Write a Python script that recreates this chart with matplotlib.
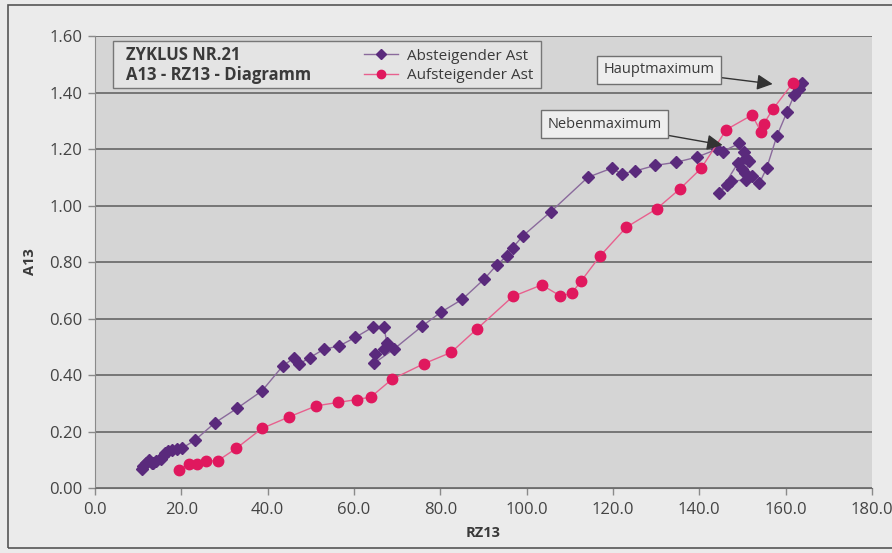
import matplotlib
matplotlib.use("Agg")
import matplotlib.pyplot as plt
from matplotlib.patches import Rectangle
from matplotlib.ticker import FormatStrFormatter, MultipleLocator

plt.rcParams["font.family"] = ["Open Sans", "DejaVu Sans"]

# Absteigender Ast (descending branch), from maximum down to minimum
desc_rz = [163.8, 163.2, 162.0, 160.3, 158.0, 155.6, 153.9, 152.3, 150.9, 147.3,
           146.5, 144.6, 148.9, 150.0, 150.6, 151.6, 150.9, 150.4, 149.3, 145.4,
           144.1, 139.4, 134.6, 129.8, 125.1, 122.0, 119.7, 114.2, 105.6, 99.1,
           96.8, 95.4, 93.1, 90.2, 85.1, 80.1, 75.8, 69.2, 64.6, 64.8,
           66.9, 67.7, 66.9, 64.3, 60.3, 56.6, 53.0, 49.7, 47.3, 46.2,
           43.5, 38.7, 32.9, 27.8, 23.2, 20.1, 18.9, 17.8, 17.0, 16.2,
           15.7, 15.2, 14.2, 13.5, 13.1, 12.4, 11.8, 11.2, 10.8]
desc_a13 = [1.432, 1.411, 1.391, 1.330, 1.247, 1.132, 1.078, 1.104, 1.092, 1.085,
            1.073, 1.043, 1.149, 1.130, 1.116, 1.159, 1.167, 1.191, 1.220, 1.191,
            1.199, 1.171, 1.153, 1.142, 1.122, 1.112, 1.132, 1.100, 0.978, 0.892,
            0.851, 0.821, 0.790, 0.740, 0.668, 0.622, 0.573, 0.491, 0.441, 0.474,
            0.491, 0.512, 0.569, 0.569, 0.533, 0.503, 0.491, 0.461, 0.439, 0.462,
            0.432, 0.344, 0.282, 0.231, 0.170, 0.140, 0.137, 0.134, 0.132, 0.125,
            0.113, 0.101, 0.095, 0.090, 0.087, 0.099, 0.090, 0.078, 0.066]

# Aufsteigender Ast (ascending branch)
asc_rz = [19.5, 21.8, 23.7, 25.8, 28.4, 32.7, 38.7, 45.0, 51.3, 56.3,
          60.6, 63.9, 68.8, 76.2, 82.5, 88.4, 96.8, 103.5, 107.8, 110.4,
          112.6, 117.0, 123.1, 130.1, 135.6, 140.4, 146.3, 152.2, 154.4, 154.9,
          157.0, 161.6]
asc_a13 = [0.064, 0.085, 0.085, 0.096, 0.096, 0.140, 0.211, 0.252, 0.291, 0.303,
           0.313, 0.322, 0.385, 0.440, 0.480, 0.562, 0.678, 0.719, 0.680, 0.689,
           0.732, 0.821, 0.923, 0.988, 1.060, 1.131, 1.269, 1.320, 1.259, 1.288,
           1.340, 1.432]

purple = "#5a2a7c"
pink = "#e0185e"
txt = "#3a3a3a"

fig = plt.figure(figsize=(8.92, 5.53), dpi=100, facecolor="#ebebeb")
ax = fig.add_axes([0.1065, 0.1175, 0.871, 0.8174])
ax.set_facecolor("#d5d5d5")

# outer frame of the chart
fig.add_artist(Rectangle((0.009, 0.009), 1.1, 0.982, transform=fig.transFigure,
                         fill=False, edgecolor="#555555", lw=1.2))

ax.plot(desc_rz, desc_a13, color="#8a6a9c", lw=1.0, marker="D", ms=6,
        mfc=purple, mec=purple, label="Absteigender Ast", zorder=3)
ax.plot(asc_rz, asc_a13, color="#e8608e", lw=1.0, marker="o", ms=7.5,
        mfc=pink, mec=pink, label="Aufsteigender Ast", zorder=4)

ax.set_xlim(0, 180)
ax.set_ylim(0, 1.6)
ax.xaxis.set_major_locator(MultipleLocator(20))
ax.yaxis.set_major_locator(MultipleLocator(0.2))
ax.xaxis.set_major_formatter(FormatStrFormatter("%.1f"))
ax.yaxis.set_major_formatter(FormatStrFormatter("%.2f"))
ax.grid(axis="y", color="#6e6e6e", lw=1.3)
ax.set_axisbelow(True)
for s in ["top", "right"]:
    ax.spines[s].set_visible(False)
ax.spines["left"].set_color("#8a8a8a")
ax.spines["bottom"].set_color("#6e6e6e")
ax.tick_params(axis="both", colors="#8a8a8a", labelcolor="#444444", labelsize=12,
               length=5, width=1)
ax.tick_params(axis="x", pad=5)
ax.tick_params(axis="y", pad=4)

ax.set_xlabel("RZ13", fontsize=10.5, fontweight="bold", color=txt, labelpad=6)
ax.set_ylabel("A13", fontsize=10.5, fontweight="bold", color=txt, labelpad=9)

# title box with legend
ax.add_patch(Rectangle((0.1267, 0.8409), 0.4798, 0.085, transform=fig.transFigure,
                       facecolor="#e4e4e4", edgecolor="#777777", lw=1.0,
                       zorder=5, clip_on=False))
ax.text(0.141, 0.901, "ZYKLUS NR.21", transform=fig.transFigure, fontsize=12,
        fontweight="bold", color=txt, va="center", zorder=6)
ax.text(0.141, 0.865, "A13 - RZ13 - Diagramm", transform=fig.transFigure,
        fontsize=12, fontweight="bold", color=txt, va="center", zorder=6)
leg = ax.legend(loc="upper left", bbox_to_anchor=(0.408, 0.912),
                bbox_transform=fig.transFigure, frameon=False, fontsize=11,
                handlelength=2.2, handletextpad=0.6, borderpad=0, borderaxespad=0,
                labelspacing=0.3, markerscale=0.8)
leg.set_zorder(7)
for t in leg.get_texts():
    t.set_color(txt)

box = dict(boxstyle="square,pad=0.45", fc="#eeeeee", ec="#707070", lw=1.0)
arrow = dict(arrowstyle="-|>,head_length=0.9,head_width=0.45", color="#333333",
             lw=1.0, shrinkA=0, shrinkB=0)
ax.annotate("Hauptmaximum", xy=(157.0, 1.43), xytext=(130.7, 1.48),
            ha="center", va="center", fontsize=10.5, color=txt,
            bbox=box, arrowprops=arrow, zorder=6)
ax.annotate("Nebenmaximum", xy=(145.4, 1.214), xytext=(118.1, 1.288),
            ha="center", va="center", fontsize=10.5, color=txt,
            bbox=box, arrowprops=arrow, zorder=6)

fig.savefig("out.png", dpi=100, facecolor=fig.get_facecolor())
